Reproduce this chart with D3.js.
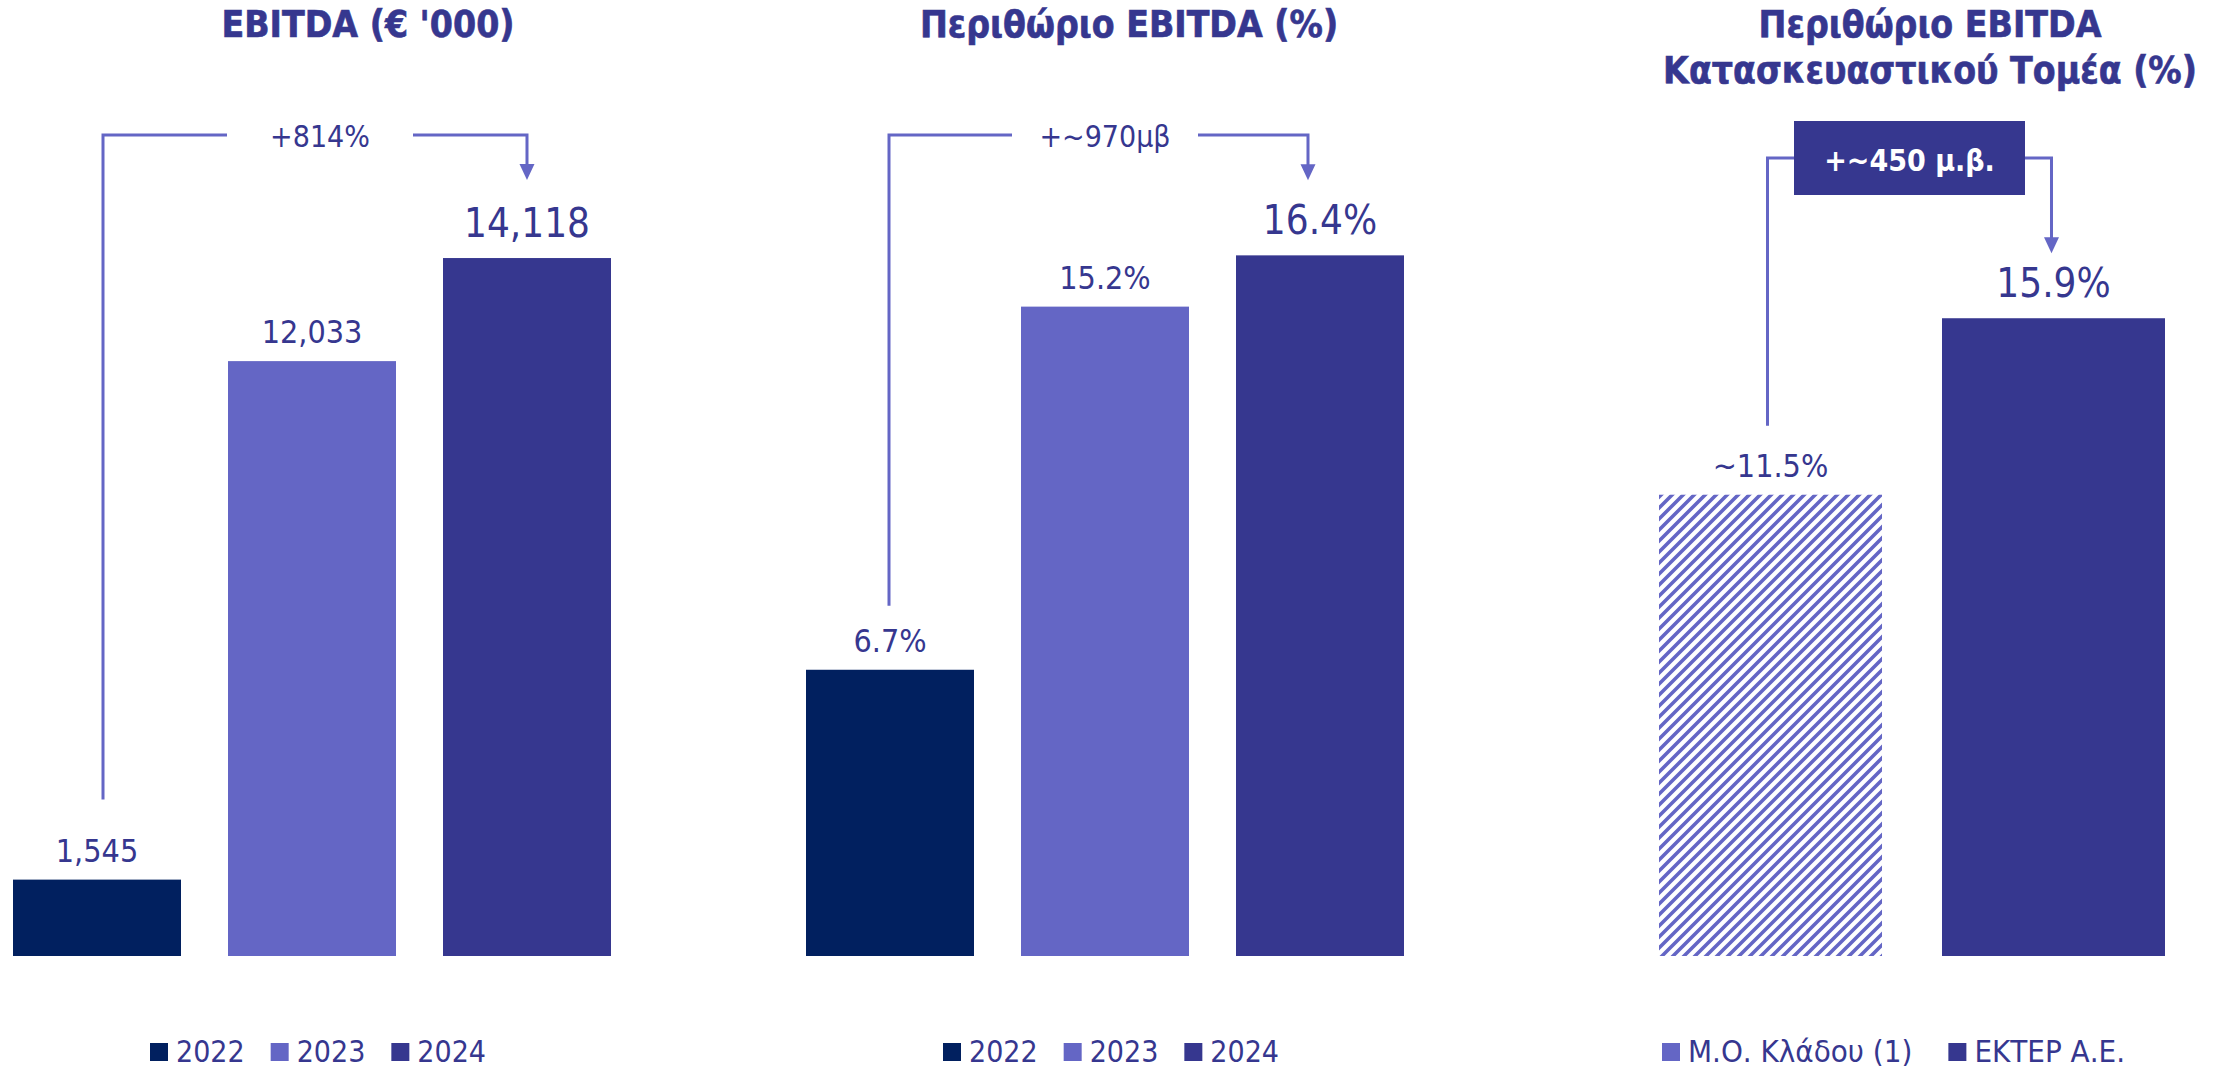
<!DOCTYPE html>
<html><head><meta charset="utf-8">
<script src="https://cdn.jsdelivr.net/npm/d3@7"></script>
<style>
body{margin:0;background:#fff}
svg{display:block}
text{font-family:"DejaVu Sans Condensed","DejaVu Sans",sans-serif}
</style>
</head><body>
<svg id="c" width="2220" height="1068"></svg>
<script>
// ---------- data ----------
const ebitdaYears = ["2022", "2023", "2024"];
const ebitdaValues = [1545, 12033, 14118];
const ebitdaLabels = ["1,545", "12,033", "14,118"];

const marginYears = ["2022", "2023", "2024"];
const marginValues = [6.7, 15.2, 16.4];
const marginLabels = ["6.7%", "15.2%", "16.4%"];

const sectorCats = ["Μ.Ο. Κλάδου (1)", "ΕΚΤΕΡ Α.Ε."];
const sectorValues = [11.5, 15.9];
const sectorLabels = ["~11.5%", "15.9%"];

const panelTitles = [["EBITDA (€ '000)"], ["Περιθώριο EBITDA (%)"], ["Περιθώριο EBITDA", "Κατασκευαστικού Τομέα (%)"]];
const changeLabels = ["+814%", "+~970μβ", "+~450 μ.β."];

// ---------- styles ----------
const yearColors = ["#01205F", "#6466C5", "#36378F"];
const sectorColors = ["#6466C5", "#36378F"];
const textColor = "#36378F";
const arrowColor = "#6466C5";

const svg = d3.select("#c");
const defs = svg.append("defs");
const pat = defs.append("pattern").attr("id", "hatch")
  .attr("patternUnits", "userSpaceOnUse").attr("width", 11).attr("height", 11);
pat.append("path")
  .attr("d", "M-2.75,2.75 L2.75,-2.75 M0,11 L11,0 M8.25,13.75 L13.75,8.25")
  .attr("stroke", "#6466C5").attr("stroke-width", 3.6);

const baseline = 956;

function drawPanel(cfg) {
  const g = svg.append("g");
  const x = d3.scaleBand().domain(cfg.cats).range(cfg.xRange).paddingInner(cfg.pad).paddingOuter(0);
  const y = d3.scaleLinear().domain([0, cfg.yMax]).range([baseline, cfg.yTop]);
  const bw = x.bandwidth();
  const n = cfg.cats.length;

  // title
  cfg.title.forEach((t, i) => {
    g.append("text").attr("x", cfg.titleX).attr("y", 37 + i * 46)
      .attr("text-anchor", "middle").attr("font-size", 37).attr("font-weight", "bold")
      .attr("fill", textColor).attr("stroke", textColor).attr("stroke-width", 0.6)
      .text(t);
  });

  // bars
  g.selectAll("rect.bar").data(cfg.values).join("rect").attr("class", "bar")
    .attr("x", (d, i) => x(cfg.cats[i])).attr("width", bw)
    .attr("y", d => y(d)).attr("height", d => baseline - y(d))
    .attr("fill", (d, i) => cfg.fills[i]);

  // value labels
  g.selectAll("text.val").data(cfg.values).join("text").attr("class", "val")
    .attr("x", (d, i) => x(cfg.cats[i]) + bw / 2)
    .attr("y", (d, i) => y(d) - (i === n - 1 ? 21 : 18))
    .attr("text-anchor", "middle")
    .attr("font-size", (d, i) => i === n - 1 ? 40 : 32)
    .attr("fill", textColor)
    .text((d, i) => cfg.labels[i]);

  // change arrow
  const a = cfg.arrow;
  const sx = x(cfg.cats[0]) + bw / 2 + a.startDx;
  const ex = x(cfg.cats[n - 1]) + bw / 2 + a.endDx;
  const sBottom = y(cfg.values[0]) - a.startGap;
  const tip = y(cfg.values[n - 1]) - a.tipGap;
  const head = 16;
  let gl, gr, cx;
  if (a.box) {
    cx = (sx + ex) / 2;
    gl = cx - a.box.w / 2; gr = cx + a.box.w / 2;
  } else {
    cx = x(cfg.cats[1]) + bw / 2 + a.textDx;
    gl = cx - 93; gr = cx + 93;
  }
  g.append("path")
    .attr("d", `M${sx},${sBottom} V${a.lineY} H${gl} M${gr},${a.lineY} H${ex} V${tip - head + 1}`)
    .attr("fill", "none").attr("stroke", arrowColor).attr("stroke-width", 3);
  g.append("path")
    .attr("d", `M${ex - 7.5},${tip - head} L${ex + 7.5},${tip - head} L${ex},${tip} Z`)
    .attr("fill", arrowColor);
  if (a.box) {
    g.append("rect").attr("x", gl).attr("width", a.box.w)
      .attr("y", a.lineY - a.box.h / 2).attr("height", a.box.h).attr("fill", "#36378F");
    g.append("text").attr("x", cx).attr("y", a.lineY + 13)
      .attr("text-anchor", "middle").attr("font-size", 30).attr("font-weight", "bold")
      .attr("fill", "#fff").text(cfg.change);
  } else {
    g.append("text").attr("x", cx).attr("y", a.lineY + 12)
      .attr("text-anchor", "middle").attr("font-size", 30)
      .attr("fill", textColor).text(cfg.change);
  }

  // legend
  const lg = g.append("g");
  let lx = cfg.legendX;
  cfg.cats.forEach((c, i) => {
    lg.append("rect").attr("x", lx).attr("y", 1043).attr("width", 18).attr("height", 18)
      .attr("fill", cfg.legendColors[i]);
    const t = lg.append("text").attr("x", lx + 26).attr("y", 1062)
      .attr("font-size", cfg.legendSize).attr("fill", textColor).text(c);
    lx += 26 + t.node().getComputedTextLength() + cfg.legendGap;
  });
}

drawPanel({
  cats: ebitdaYears, values: ebitdaValues, labels: ebitdaLabels,
  fills: yearColors, legendColors: yearColors,
  xRange: [13, 611], pad: 0.2186, yMax: 16000, yTop: 165,
  title: panelTitles[0], titleX: 368, change: changeLabels[0],
  arrow: { startDx: 6, endDx: 0, startGap: 80, tipGap: 78, lineY: 135, textDx: 8 },
  legendX: 150, legendGap: 26, legendSize: 30
});

drawPanel({
  cats: marginYears, values: marginValues, labels: marginLabels,
  fills: yearColors, legendColors: yearColors,
  xRange: [806, 1404], pad: 0.2186, yMax: 18, yTop: 187,
  title: panelTitles[1], titleX: 1129, change: changeLabels[1],
  arrow: { startDx: -1, endDx: -12, startGap: 64, tipGap: 75, lineY: 135, textDx: 0 },
  legendX: 943, legendGap: 26, legendSize: 30
});

drawPanel({
  cats: sectorCats, values: sectorValues, labels: sectorLabels,
  fills: ["url(#hatch)", sectorColors[1]], legendColors: sectorColors,
  xRange: [1659, 2165], pad: 0.212, yMax: 18, yTop: 234,
  title: panelTitles[2], titleX: 1930, change: changeLabels[2],
  arrow: { startDx: -3, endDx: -2, startGap: 69, tipGap: 65, lineY: 158, box: { w: 231, h: 74 } },
  legendX: 1662, legendGap: 36, legendSize: 31
});
</script>
</body></html>
